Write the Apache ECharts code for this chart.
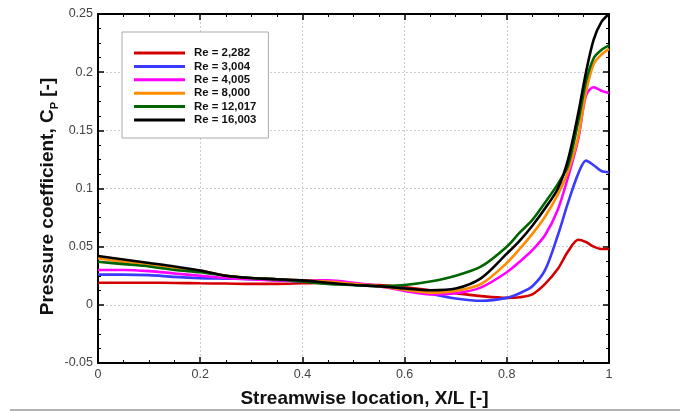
<!DOCTYPE html>
<html><head><meta charset="utf-8">
<script src="https://cdn.jsdelivr.net/npm/echarts@6/dist/echarts.min.js"></script>
<style>html,body{margin:0;padding:0;background:#fff}#c{width:680px;height:414px}</style>
</head><body><div id="c"></div>
<script>
const xs = [0,0.05,0.1,0.15,0.2,0.25,0.3,0.35,0.4,0.45,0.5,0.55,0.6,0.65,0.7,0.75,0.8,0.825,0.85,0.875,0.9,0.92,0.94,0.955,0.97,0.985,1.0];
const re2282  = [0.019,0.019,0.019,0.0188,0.0185,0.0183,0.018,0.018,0.0185,0.019,0.018,0.017,0.015,0.0125,0.010,0.0075,0.006,0.0065,0.009,0.018,0.031,0.046,0.056,0.054,0.050,0.048,0.048];
const re3004  = [0.026,0.026,0.0255,0.024,0.023,0.0225,0.022,0.021,0.020,0.019,0.018,0.016,0.014,0.0095,0.0055,0.0035,0.006,0.010,0.016,0.030,0.060,0.088,0.113,0.124,0.120,0.115,0.114];
const re4005  = [0.030,0.030,0.029,0.027,0.025,0.023,0.022,0.021,0.021,0.021,0.019,0.016,0.012,0.009,0.010,0.015,0.028,0.037,0.047,0.060,0.082,0.110,0.143,0.180,0.187,0.184,0.182];
const re8000  = [0.040,0.037,0.035,0.032,0.0295,0.025,0.023,0.022,0.021,0.020,0.018,0.016,0.013,0.0105,0.012,0.018,0.036,0.048,0.061,0.076,0.095,0.115,0.145,0.183,0.207,0.215,0.220];
const re12017 = [0.037,0.035,0.033,0.030,0.028,0.025,0.023,0.022,0.020,0.018,0.017,0.016,0.017,0.020,0.025,0.033,0.050,0.062,0.073,0.088,0.104,0.120,0.158,0.192,0.212,0.219,0.223];
const re16003 = [0.042,0.039,0.036,0.033,0.0295,0.025,0.023,0.022,0.021,0.019,0.017,0.016,0.014,0.0125,0.014,0.023,0.044,0.055,0.068,0.083,0.100,0.125,0.165,0.200,0.228,0.243,0.250];
const names = ['Re = 2,282','Re = 3,004','Re = 4,005','Re = 8,000','Re = 12,017','Re = 16,003'];
const colors = ['#d40000','#3a3aff','#ff00ff','#ff8c00','#006400','#000000'];
const seriesVals = [re2282,re3004,re4005,re8000,re12017,re16003];

const chart = echarts.init(document.getElementById('c'));
const font = 'Liberation Sans, Arial, sans-serif';
const commonX = {type:'value',min:0,max:1,interval:0.2};
const commonY = {type:'value',min:-0.05,max:0.25,interval:0.05};
const line = {show:true,onZero:false,lineStyle:{color:'#000',width:2}};
const tick = {show:true,inside:true,length:6,lineStyle:{color:'#000',width:1.5}};
const minor = {show:true,splitNumber:4,length:3,lineStyle:{color:'#000',width:1}};
const grid = {show:true,lineStyle:{color:'#ccc',type:[2,2],width:1}};
chart.setOption({
  animation:false,
  grid:{left:98,right:71,top:14,bottom:51,outerBoundsMode:'none',containLabel:false},
  legend:{
    orient:'vertical',left:122,top:32,
    padding:[15,12,12,12],itemGap:1.4,
    backgroundColor:'#fff',borderColor:'#aaa',borderWidth:1,
    itemWidth:51,itemHeight:3,icon:'rect',
    textStyle:{fontFamily:font,fontSize:11.4,fontWeight:'bold',color:'#111',lineHeight:12,padding:[0,0,0,4]},
    data:names
  },
  xAxis:[
    Object.assign({},commonX,{position:'bottom',
      axisLine:line,axisTick:tick,minorTick:minor,splitLine:grid,
      axisLabel:{color:'#444',fontFamily:font,fontSize:12.5,margin:5},
      name:'Streamwise location, X/L [-]',nameLocation:'middle',nameGap:26,nameMoveOverlap:false,
      nameTextStyle:{fontFamily:font,fontSize:19,fontWeight:'bold',color:'#111',padding:[0,0,0,22]}}),
    Object.assign({},commonX,{position:'top',
      axisLine:line,axisTick:tick,minorTick:minor,splitLine:{show:false},axisLabel:{show:false}})
  ],
  yAxis:[
    Object.assign({},commonY,{position:'left',
      axisLine:line,axisTick:tick,minorTick:minor,splitLine:grid,
      axisLabel:{color:'#444',fontFamily:font,fontSize:12.5,margin:5},
      name:'{a|Pressure coefficient, C}{s|P}{a| [-]}',nameLocation:'middle',nameGap:41,nameRotate:90,nameMoveOverlap:false,
      nameTextStyle:{padding:[0,16,0,0],rich:{
        a:{fontFamily:font,fontSize:19,fontWeight:'bold',color:'#111',lineHeight:24,verticalAlign:'bottom'},
        s:{fontFamily:font,fontSize:11,fontWeight:'bold',color:'#111',lineHeight:24,verticalAlign:'bottom',padding:[0,0,-3,0]}
      }}}),
    Object.assign({},commonY,{position:'right',
      axisLine:line,axisTick:tick,minorTick:minor,splitLine:{show:false},axisLabel:{show:false}})
  ],
  graphic:[{type:'line',shape:{x1:10,y1:410,x2:680,y2:410},style:{stroke:'#999',lineWidth:1.5},silent:true}],
  series: seriesVals.map((vals,i)=>({
    name:names[i],type:'line',xAxisIndex:0,yAxisIndex:0,
    data:xs.map((x,j)=>[x,vals[j]]),
    smooth:0.3,showSymbol:false,symbol:'none',
    lineStyle:{color:colors[i],width:2.6},itemStyle:{color:colors[i]},
    z:2+i
  }))
});
</script></body></html>
